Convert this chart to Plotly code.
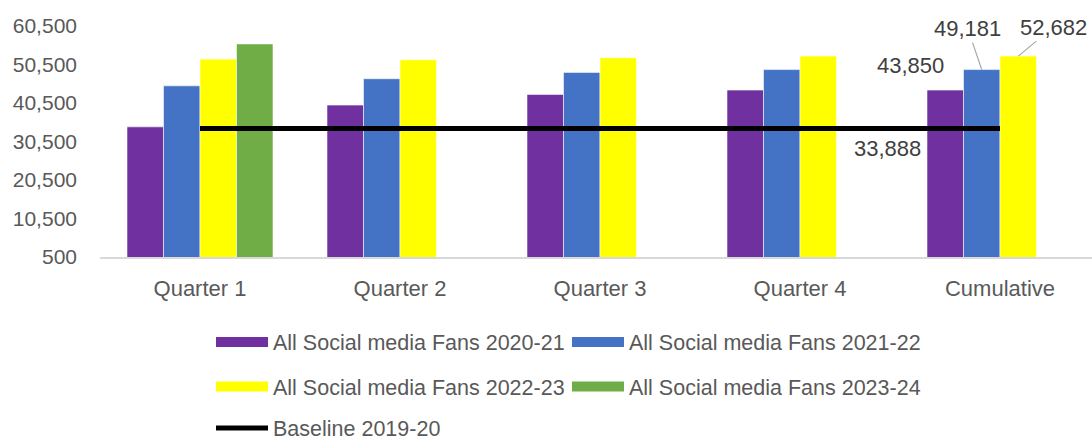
import plotly.graph_objects as go

categories = ["Quarter 1", "Quarter 2", "Quarter 3", "Quarter 4", "Cumulative"]
fans_2020_21 = [34300, 39950, 42740, 43850, 43850]
fans_2021_22 = [44950, 46800, 48450, 49181, 49181]
fans_2022_23 = [51900, 51750, 52260, 52682, 52682]
fans_2023_24 = [55850, None, None, None, None]
baseline_2019_20 = [33888, 33888, 33888, 33888, 33888]
y_ticks = [500, 10500, 20500, 30500, 40500, 50500, 60500]

series = [
    ("All Social media Fans 2020-21", fans_2020_21, "#7030A0", "legend"),
    ("All Social media Fans 2021-22", fans_2021_22, "#4472C4", "legend"),
    ("All Social media Fans 2022-23", fans_2022_23, "#FFFF00", "legend2"),
    ("All Social media Fans 2023-24", fans_2023_24, "#70AD47", "legend2"),
]

FONT = "Liberation Sans"
TICK_COLOR = "#595959"
LABEL_COLOR = "#404040"

fig = go.Figure()
for i, (name, vals, color, leg) in enumerate(series):
    fig.add_trace(go.Bar(
        x=categories, y=vals, name=name, marker_color=color,
        marker_line=dict(color="rgba(255,255,255,0.7)", width=0.8),
        legendgroup=name, showlegend=False, offsetgroup=str(i),
    ))
    # legend proxy (wide rectangle symbol like the original)
    fig.add_trace(go.Scatter(
        x=[None], y=[None], mode="lines", name=name,
        line=dict(color=color, width=14),
        legendgroup=name, legend=leg, hoverinfo="skip",
    ))

fig.add_trace(go.Scatter(
    x=categories, y=baseline_2019_20, mode="lines", name="Baseline 2019-20",
    line=dict(color="black", width=5), legend="legend3",
))

w = (1 - 0.27) / 4
cum = 4
ann_font = dict(family=FONT, size=22, color=LABEL_COLOR)
annotations = [
    dict(x=cum - 1.5 * w, y=fans_2020_21[4], xref="x", yref="y",
         text=f"{fans_2020_21[4]:,}", showarrow=False,
         xshift=-35, yshift=25, font=ann_font),
    dict(x=cum - 0.5 * w, y=fans_2021_22[4], xref="x", yref="y",
         text=f"{fans_2021_22[4]:,}", showarrow=True, arrowhead=0,
         arrowwidth=1.2, arrowcolor="#a6a6a6", ax=-14, ay=-41,
         standoff=0, font=ann_font),
    dict(x=cum + 0.5 * w, y=fans_2022_23[4], xref="x", yref="y",
         text=f"{fans_2022_23[4]:,}", showarrow=True, arrowhead=0,
         arrowwidth=1.2, arrowcolor="#a6a6a6", ax=35, ay=-29,
         standoff=0, font=ann_font),
    dict(x=cum, y=baseline_2019_20[4], xref="x", yref="y",
         text=f"{baseline_2019_20[4]:,}", showarrow=False,
         xshift=-113, yshift=-20, font=ann_font),
]

leg_common = dict(
    orientation="h", xref="container", yref="container",
    xanchor="left", yanchor="middle", bgcolor="rgba(0,0,0,0)",
    font=dict(family=FONT, size=21.5, color=TICK_COLOR),
    itemwidth=52, entrywidth=289, tracegroupgap=0, itemclick="toggle",
)

fig.update_layout(
    width=1092, height=442,
    margin=dict(l=100, r=0, t=26, b=185),
    paper_bgcolor="white", plot_bgcolor="white",
    barmode="group", bargap=0.27, bargroupgap=0,
    font=dict(family=FONT, size=21, color=TICK_COLOR),
    xaxis=dict(
        range=[-0.5, 4.46], showgrid=False, showline=True,
        linecolor="#d9d9d9", linewidth=1.5, zeroline=False,
        ticks="", ticklabelstandoff=11,
        tickfont=dict(family=FONT, size=22, color=TICK_COLOR),
    ),
    yaxis=dict(
        range=[500, 60500], tickvals=y_ticks, tickformat=",",
        showgrid=False, showline=False, zeroline=False,
        ticks="", ticklabelstandoff=22,
        tickfont=dict(family=FONT, size=21, color=TICK_COLOR),
    ),
    legend=dict(x=211 / 1092, y=1 - 342 / 442, **leg_common),
    legend2=dict(x=211 / 1092, y=1 - 386.5 / 442, **leg_common),
    legend3=dict(x=211 / 1092, y=1 - 428 / 442, **leg_common),
    annotations=annotations,
    showlegend=True,
)

fig.write_html("out.html")
